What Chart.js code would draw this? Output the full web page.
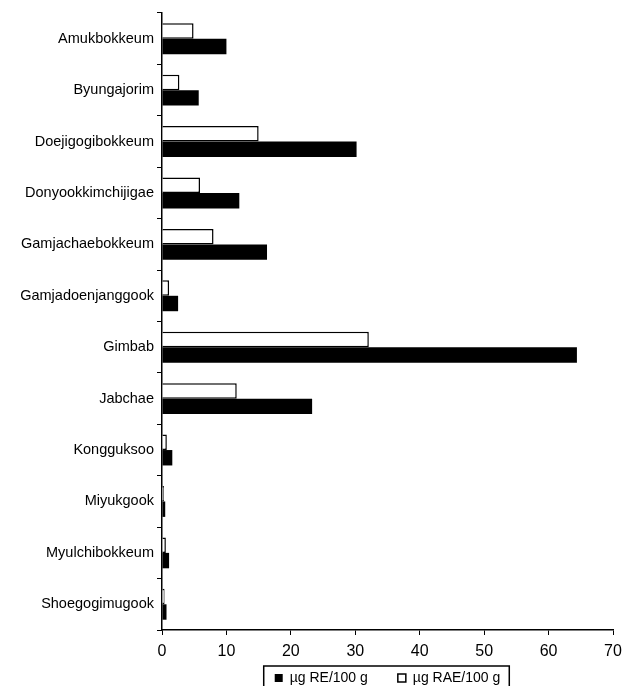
<!DOCTYPE html>
<html>
<head>
<meta charset="utf-8">
<script src="https://cdn.jsdelivr.net/npm/chart.js@4/dist/chart.umd.min.js"></script>
<style>
    html, body { margin: 0; padding: 0; background: #fff; overflow: hidden; }
    #wrap { position: relative; width: 622px; height: 695px; }
</style>
</head>
<body>
<div id="wrap"><canvas id="retinolChart"></canvas></div>
<script>
// Dishes, top to bottom
const dishes = [
    'Amukbokkeum', 'Byungajorim', 'Doejigogibokkeum', 'Donyookkimchijigae',
    'Gamjachaebokkeum', 'Gamjadoenjanggook', 'Gimbab', 'Jabchae',
    'Kongguksoo', 'Miyukgook', 'Myulchibokkeum', 'Shoegogimugook'
];

// µg RE/100 g (black bars)
const reValues = [10.0, 5.7, 30.2, 12.0, 16.3, 2.5, 64.4, 23.3, 1.6, 0.5, 1.1, 0.7];

// µg RAE/100 g (white bars)
const raeValues = [4.9, 2.7, 15.0, 5.9, 8.0, 1.1, 32.1, 11.6, 0.75, 0.3, 0.6, 0.4];

const xTicks = [0, 10, 20, 30, 40, 50, 60, 70];

const fontFamily = '"Liberation Sans", Arial, sans-serif';

// frame around the legend items; also lets x tick labels spill below the short axis box
const legendFrame = {
    id: 'legendFrame',
    afterLayout(chart) {
        const x = chart.scales.x;
        x.bottom = x.top + 40;
    },
    afterDraw(chart) {
        const boxes = chart.legend && chart.legend.legendHitBoxes;
        if (!boxes || boxes.length === 0) return;
        const left = Math.min(...boxes.map(b => b.left)) - 11;
        const right = Math.max(...boxes.map(b => b.left + b.width)) + 9;
        const top = Math.min(...boxes.map(b => b.top)) - 5;
        const ctx = chart.ctx;
        ctx.save();
        ctx.strokeStyle = '#000';
        ctx.lineWidth = 1.5;
        ctx.strokeRect(left, top, right - left, chart.height - top + 10);
        ctx.restore();
    }
};

const ctx = document.getElementById('retinolChart').getContext('2d');
const retinolChart = new Chart(ctx, {
    type: 'bar',
    data: {
        labels: dishes,
        datasets: [
            {
                label: 'µg RAE/100 g',
                data: raeValues,
                backgroundColor: '#fff',
                borderColor: '#000',
                borderWidth: 1.5,
                categoryPercentage: 0.6,
                barPercentage: 1.0
            },
            {
                label: 'µg RE/100 g',
                data: reValues,
                backgroundColor: '#000',
                borderColor: '#000',
                borderWidth: 0,
                categoryPercentage: 0.6,
                barPercentage: 1.0
            }
        ]
    },
    options: {
        indexAxis: 'y',
        responsive: true,
        maintainAspectRatio: false,
        animation: false,
        layout: {
            padding: { top: 13, right: 9, bottom: 0, left: 0 }
        },
        scales: {
            x: {
                min: 0,
                max: 70,
                afterBuildTicks: (scale) => {
                    scale.ticks = xTicks.map(v => ({ value: v }));
                },
                afterFit: (scale) => {
                    scale.height = 11;
                    scale.paddingLeft = 0;
                    scale.paddingRight = 0;
                },
                grid: {
                    display: true,
                    drawOnChartArea: false,
                    drawTicks: true,
                    tickLength: 5,
                    color: '#000',
                    lineWidth: 1
                },
                border: { display: true, color: '#000', width: 1.5 },
                ticks: {
                    color: '#000',
                    padding: 7,
                    maxRotation: 0,
                    autoSkip: false,
                    font: { family: fontFamily, size: 16 }
                }
            },
            y: {
                afterFit: (scale) => {
                    scale.width = 162;
                },
                grid: {
                    display: true,
                    offset: true,
                    drawOnChartArea: false,
                    drawTicks: true,
                    tickLength: 5,
                    color: '#000',
                    lineWidth: 1
                },
                border: { display: true, color: '#000', width: 1.5 },
                ticks: {
                    color: '#000',
                    padding: 3,
                    autoSkip: false,
                    font: { family: fontFamily, size: 14.5 }
                }
            }
        },
        plugins: {
            legend: {
                display: true,
                position: 'bottom',
                fullSize: false,
                reverse: true,
                labels: {
                    color: '#000',
                    boxWidth: 8,
                    boxHeight: 8,
                    padding: 30,
                    font: { family: fontFamily, size: 14 }
                }
            },
            tooltip: { enabled: false }
        }
    },
    plugins: [legendFrame]
});
</script>
</body>
</html>
